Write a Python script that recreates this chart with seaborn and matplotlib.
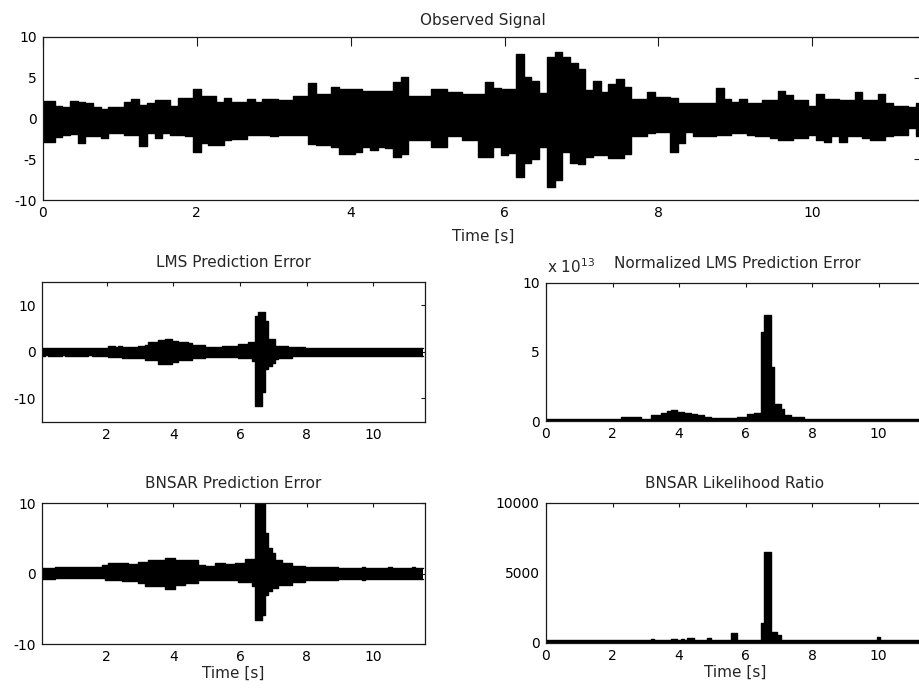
import numpy as np
import matplotlib
matplotlib.use("Agg")
import matplotlib.pyplot as plt
from matplotlib.ticker import FuncFormatter
import seaborn as sns

# ---- sampled envelopes, one value every 0.1 s from 0.0 to 11.5 s ----
TIME = np.round(np.arange(116) * 0.1, 1)

OBS_UPPER = [
    2.15, 2.15, 1.5, 1.45, 2.1, 2.0, 1.9, 1.45, 1.2, 1.45,
    1.45, 2.0, 2.4, 1.65, 1.85, 2.25, 2.25, 1.5, 2.5, 2.5,
    3.6, 2.7, 2.7, 2.05, 2.55, 2.05, 2.05, 2.45, 2.05, 2.35,
    2.35, 2.25, 2.25, 2.7, 2.7, 4.4, 3.0, 3.0, 3.9, 3.6,
    3.6, 3.6, 3.4, 3.4, 3.4, 3.4, 4.5, 5.05, 2.7, 2.7,
    2.7, 3.6, 3.6, 3.2, 3.2, 3.0, 3.0, 3.0, 4.5, 3.8,
    3.6, 3.6, 7.9, 5.05, 4.6, 3.1, 7.6, 8.2, 7.6, 6.85,
    6.05, 3.5, 4.6, 3.3, 4.2, 4.8, 3.9, 2.4, 2.4, 3.2,
    2.6, 2.6, 2.55, 1.95, 1.95, 1.95, 1.95, 1.95, 3.7, 2.35,
    2.05, 2.4, 1.85, 1.85, 2.25, 2.25, 3.4, 2.9, 2.25, 2.25,
    1.5, 3.0, 2.4, 2.4, 2.25, 2.25, 3.3, 2.25, 2.25, 3.0,
    1.85, 1.5, 1.5, 1.45, 1.85, 1.85,
]
OBS_LOWER = [
    -2.85, -2.85, -2.25, -2.0, -1.85, -3.05, -2.2, -2.2, -2.45, -1.8,
    -1.8, -2.0, -2.0, -3.35, -1.8, -2.45, -1.8, -2.0, -2.0, -2.2,
    -4.05, -3.05, -3.25, -3.25, -2.65, -2.55, -2.55, -2.0, -2.0, -2.0,
    -2.2, -2.0, -2.0, -2.0, -2.0, -3.15, -3.2, -3.2, -3.45, -4.3,
    -4.3, -4.1, -3.45, -3.85, -3.45, -3.65, -4.7, -4.3, -2.65, -2.65,
    -2.65, -3.45, -3.45, -2.2, -2.2, -2.65, -2.65, -4.7, -4.7, -3.45,
    -4.5, -4.2, -7.15, -5.5, -5.0, -3.45, -8.35, -7.55, -4.05, -5.5,
    -5.6, -4.7, -4.5, -4.5, -4.9, -4.9, -4.3, -2.2, -2.2, -1.8,
    -1.6, -1.6, -4.05, -3.05, -1.6, -2.2, -2.2, -2.2, -2.0, -2.0,
    -1.8, -1.8, -2.0, -2.2, -2.2, -2.45, -2.65, -2.65, -2.45, -2.45,
    -2.0, -2.65, -2.85, -2.2, -2.85, -2.2, -2.2, -2.45, -2.65, -2.65,
    -2.2, -2.0, -2.0, -1.2, -2.2, -2.2,
]

LMS_UPPER = [
    0.8, 0.8, 0.85, 0.8, 0.8, 0.75, 0.8, 0.8, 0.85, 0.8,
    0.8, 0.8, 0.85, 0.8, 0.8, 0.8, 0.85, 0.8, 0.8, 0.85,
    0.9, 1.2, 1.2, 1.1, 1.2, 1.1, 1.1, 1.0, 1.1, 1.1,
    1.3, 1.3, 1.4, 2.0, 2.0, 2.1, 2.5, 2.5, 2.7, 2.7,
    2.4, 2.35, 2.2, 2.0, 2.0, 1.8, 1.5, 1.5, 1.4, 1.4,
    1.1, 1.1, 1.1, 1.1, 1.1, 1.3, 1.3, 1.3, 1.3, 1.3,
    1.6, 1.6, 1.6, 2.0, 2.0, 7.7, 8.6, 8.6, 6.6, 2.7,
    2.7, 1.3, 1.3, 1.3, 1.3, 1.1, 1.1, 1.1, 1.1, 1.1,
    0.9, 0.9, 0.9, 0.9, 0.9, 0.9, 0.9, 0.9, 0.9, 0.9,
    0.8, 0.8, 0.8, 0.8, 0.8, 0.8, 0.8, 0.9, 0.8, 0.8,
    0.8, 0.8, 0.8, 0.8, 0.8, 0.9, 0.8, 0.8, 0.8, 0.8,
    0.8, 0.8, 0.8, 0.8, 0.8, 0.8,
]
LMS_LOWER = [
    -0.85, -0.85, -0.8, -0.85, -0.9, -0.85, -0.85, -0.8, -0.85, -0.85,
    -0.85, -0.9, -0.85, -0.85, -0.85, -0.8, -0.85, -0.85, -0.9, -0.85,
    -0.9, -1.2, -1.2, -1.2, -1.2, -1.35, -1.35, -1.35, -1.35, -1.35,
    -1.35, -1.35, -1.8, -1.8, -1.8, -1.8, -2.6, -2.6, -2.6, -2.6,
    -2.3, -2.3, -1.8, -1.8, -1.8, -1.8, -1.35, -1.35, -1.35, -1.35,
    -1.1, -1.1, -1.1, -1.1, -1.1, -1.1, -1.1, -1.1, -1.1, -1.1,
    -1.35, -1.35, -1.35, -1.35, -1.9, -11.6, -11.6, -8.7, -3.7, -3.0,
    -2.5, -1.6, -1.3, -1.3, -1.3, -1.3, -1.0, -1.0, -1.0, -1.0,
    -1.0, -1.0, -1.0, -1.0, -1.0, -1.0, -1.0, -1.0, -1.0, -1.0,
    -0.85, -0.85, -0.85, -0.85, -0.85, -0.85, -0.85, -0.85, -0.85, -0.85,
    -0.85, -0.85, -0.85, -0.85, -0.85, -0.85, -0.85, -0.85, -0.85, -0.85,
    -0.85, -0.85, -0.85, -0.85, -0.85, -0.85,
]

# normalized LMS error, in units of 1e13
NLMS_E13 = [
    0.17, 0.17, 0.17, 0.17, 0.17, 0.17, 0.17, 0.17, 0.17, 0.17,
    0.17, 0.17, 0.17, 0.17, 0.17, 0.17, 0.17, 0.17, 0.17, 0.17,
    0.17, 0.17, 0.17, 0.3, 0.27, 0.27, 0.3, 0.3, 0.3, 0.17,
    0.17, 0.17, 0.4, 0.4, 0.4, 0.6, 0.6, 0.7, 0.78, 0.78,
    0.63, 0.63, 0.56, 0.56, 0.49, 0.49, 0.4, 0.4, 0.32, 0.32,
    0.22, 0.22, 0.22, 0.22, 0.22, 0.24, 0.24, 0.24, 0.3, 0.3,
    0.3, 0.5, 0.5, 0.55, 0.55, 6.4, 7.65, 7.65, 3.9, 1.2,
    1.2, 0.85, 0.4, 0.4, 0.3, 0.3, 0.3, 0.3, 0.17, 0.17,
    0.17, 0.17, 0.17, 0.17, 0.17, 0.17, 0.17, 0.17, 0.17, 0.17,
    0.17, 0.17, 0.17, 0.17, 0.17, 0.17, 0.17, 0.17, 0.17, 0.17,
    0.17, 0.17, 0.17, 0.17, 0.17, 0.17, 0.17, 0.17, 0.17, 0.17,
    0.17, 0.17, 0.17, 0.17, 0.17, 0.17,
]

BNSAR_UPPER = [
    0.85, 0.85, 0.85, 0.85, 0.85, 0.95, 0.95, 0.95, 0.95, 0.95,
    0.95, 0.95, 0.95, 0.95, 0.95, 1.0, 1.0, 1.0, 1.0, 1.2,
    1.2, 1.45, 1.45, 1.45, 1.55, 1.55, 1.55, 1.4, 1.4, 1.4,
    1.65, 1.65, 1.65, 1.9, 1.9, 1.9, 2.0, 2.0, 2.25, 2.25,
    2.25, 2.0, 2.0, 2.0, 1.9, 1.9, 1.9, 1.9, 1.3, 1.3,
    1.15, 1.15, 1.15, 1.55, 1.55, 1.55, 1.4, 1.4, 1.4, 1.55,
    1.55, 1.55, 2.1, 2.1, 2.1, 10.3, 10.3, 10.3, 5.8, 3.7,
    3.0, 2.0, 2.0, 1.55, 1.55, 1.55, 1.15, 1.15, 1.15, 1.15,
    1.0, 1.0, 1.0, 1.0, 1.0, 1.0, 1.0, 1.0, 1.0, 1.0,
    0.85, 0.85, 0.85, 0.85, 0.85, 0.85, 0.85, 1.0, 0.85, 0.85,
    0.85, 0.85, 0.85, 0.85, 0.85, 1.0, 0.85, 0.85, 0.85, 0.85,
    0.85, 0.85, 1.0, 0.85, 0.85, 0.85,
]
BNSAR_LOWER = [
    -0.7, -0.7, -0.7, -0.7, -0.7, -0.6, -0.6, -0.6, -0.6, -0.6,
    -0.65, -0.65, -0.65, -0.65, -0.65, -0.65, -0.65, -0.65, -0.65, -0.65,
    -0.95, -0.95, -0.95, -0.95, -0.95, -1.1, -1.1, -1.1, -1.1, -1.1,
    -1.3, -1.3, -1.8, -1.8, -1.8, -1.7, -1.7, -1.7, -2.2, -2.2,
    -2.2, -1.55, -1.55, -1.55, -1.3, -1.3, -1.3, -1.3, -0.95, -0.95,
    -0.85, -0.85, -0.85, -0.85, -0.85, -0.95, -0.95, -0.95, -0.95, -0.95,
    -1.2, -1.2, -1.2, -1.2, -1.7, -6.55, -6.55, -5.85, -3.0, -2.5,
    -2.0, -2.0, -1.55, -1.55, -1.55, -1.55, -1.2, -1.2, -1.2, -1.2,
    -0.95, -0.95, -0.95, -0.95, -0.95, -0.95, -0.95, -0.95, -0.95, -0.95,
    -0.75, -0.75, -0.75, -0.75, -0.75, -0.75, -0.75, -0.9, -0.75, -0.75,
    -0.75, -0.75, -0.75, -0.75, -0.75, -0.75, -0.75, -0.75, -0.75, -0.75,
    -0.75, -0.75, -0.75, -0.75, -0.75, -0.75,
]

LIKELIHOOD = [
    200, 200, 200, 200, 200, 200, 200, 200, 200, 200,
    200, 200, 200, 200, 200, 200, 200, 200, 200, 200,
    200, 200, 200, 200, 200, 200, 200, 200, 200, 200,
    200, 200, 260, 200, 200, 200, 200, 200, 240, 240,
    200, 240, 200, 310, 310, 200, 200, 200, 200, 360,
    200, 200, 200, 200, 200, 200, 670, 670, 200, 200,
    200, 200, 200, 200, 200, 1390, 6480, 6480, 740, 740,
    550, 200, 200, 200, 200, 200, 200, 200, 200, 200,
    200, 200, 200, 200, 200, 200, 200, 200, 200, 200,
    200, 200, 200, 200, 200, 200, 200, 200, 200, 200,
    430, 200, 200, 200, 200, 200, 200, 200, 200, 200,
    200, 200, 200, 200, 200, 200,
]

TITLES = ["Observed Signal", "LMS Prediction Error", "Normalized LMS Prediction Error",
          "BNSAR Prediction Error", "BNSAR Likelihood Ratio"]
XLABEL = "Time [s]"

# ---- styling ----
sns.set_style("white")
plt.rcParams["font.family"] = ["DejaVu Sans"]
plt.rcParams["axes.unicode_minus"] = False
TICK_FS = 10
TEXT_FS = 11
INK = "#1a1a1a"

W, H = 920, 693
fig = plt.figure(figsize=(W / 100, H / 100), dpi=100)
fig.patch.set_facecolor("white")


def px_axes(left, top, right, bottom):
    return fig.add_axes([left / W, 1 - bottom / H, (right - left) / W, (bottom - top) / H])


def band(ax, upper, lower):
    ax.fill_between(TIME, lower, upper, step="mid", color="black", linewidth=0)
    sns.lineplot(x=TIME, y=np.asarray(upper, float), ax=ax, color="black",
                 drawstyle="steps-mid", linewidth=1.0, estimator=None)
    sns.lineplot(x=TIME, y=np.asarray(lower, float), ax=ax, color="black",
                 drawstyle="steps-mid", linewidth=1.0, estimator=None)


def style(ax, ticklen):
    for s in ax.spines.values():
        s.set_visible(True)
        s.set_color(INK)
        s.set_linewidth(0.9)
    ax.tick_params(direction="in", top=True, right=True, length=ticklen,
                   width=0.8, color=INK, labelcolor="black", labelsize=TICK_FS, pad=4.5)
    ax.set_xlabel("")
    ax.set_ylabel("")


# top: observed signal
ax0 = px_axes(43, 37, 923, 200)
band(ax0, OBS_UPPER, OBS_LOWER)
ax0.set_xlim(0, 11.44)
ax0.set_ylim(-10, 10)
ax0.set_xticks([0, 2, 4, 6, 8, 10])
ax0.set_yticks([-10, -5, 0, 5, 10])
style(ax0, 6.5)
ax0.set_title(TITLES[0], fontsize=TEXT_FS, pad=8.5)
ax0.set_xlabel(XLABEL, fontsize=TEXT_FS, labelpad=6)

# middle left: LMS error
ax1 = px_axes(42, 282, 425, 421.5)
band(ax1, LMS_UPPER, LMS_LOWER)
ax1.set_xlim(0.06, 11.55)
ax1.set_ylim(-15, 15)
ax1.set_xticks([2, 4, 6, 8, 10])
ax1.set_yticks([-10, 0, 10])
style(ax1, 3.2)
ax1.set_title(TITLES[1], fontsize=TEXT_FS, pad=10.5)

# middle right: normalized LMS error
ax2 = px_axes(546, 282.7, 924, 421)
nlms = np.asarray(NLMS_E13) * 1e13
ax2.fill_between(TIME, 0, nlms, step="mid", color="black", linewidth=0)
sns.lineplot(x=TIME, y=nlms, ax=ax2, color="black", drawstyle="steps-mid",
             linewidth=1.0, estimator=None)
ax2.set_xlim(0, 11.36)
ax2.set_ylim(0, 1e14)
ax2.set_xticks([0, 2, 4, 6, 8, 10])
ax2.set_yticks([0, 5e13, 1e14])
ax2.yaxis.set_major_formatter(FuncFormatter(lambda v, _: f"{v / 1e13:g}"))
style(ax2, 3.2)
ax2.set_title(TITLES[2], fontsize=TEXT_FS, pad=10.5, x=0.505)
ax2.text(0.003, 1.068, "x 10$^{13}$", transform=ax2.transAxes, fontsize=TEXT_FS,
         ha="left", va="baseline")

# bottom left: BNSAR error
ax3 = px_axes(42, 503.3, 425, 644)
band(ax3, BNSAR_UPPER, BNSAR_LOWER)
ax3.set_xlim(0.06, 11.55)
ax3.set_ylim(-10, 10)
ax3.set_xticks([2, 4, 6, 8, 10])
ax3.set_yticks([-10, 0, 10])
style(ax3, 3.2)
ax3.set_title(TITLES[3], fontsize=TEXT_FS, pad=11)
ax3.set_xlabel(XLABEL, fontsize=TEXT_FS, labelpad=1)

# bottom right: likelihood ratio
ax4 = px_axes(546, 503, 924, 642.7)
lr = np.asarray(LIKELIHOOD, float)
ax4.fill_between(TIME, 0, lr, step="mid", color="black", linewidth=0)
sns.lineplot(x=TIME, y=lr, ax=ax4, color="black", drawstyle="steps-mid",
             linewidth=1.0, estimator=None)
ax4.set_xlim(0, 11.36)
ax4.set_ylim(0, 10000)
ax4.set_xticks([0, 2, 4, 6, 8, 10])
ax4.set_yticks([0, 5000, 10000])
style(ax4, 3.2)
ax4.set_title(TITLES[4], fontsize=TEXT_FS, pad=11)
ax4.set_xlabel(XLABEL, fontsize=TEXT_FS, labelpad=1)

fig.savefig("out.png", dpi=100, facecolor="white")
